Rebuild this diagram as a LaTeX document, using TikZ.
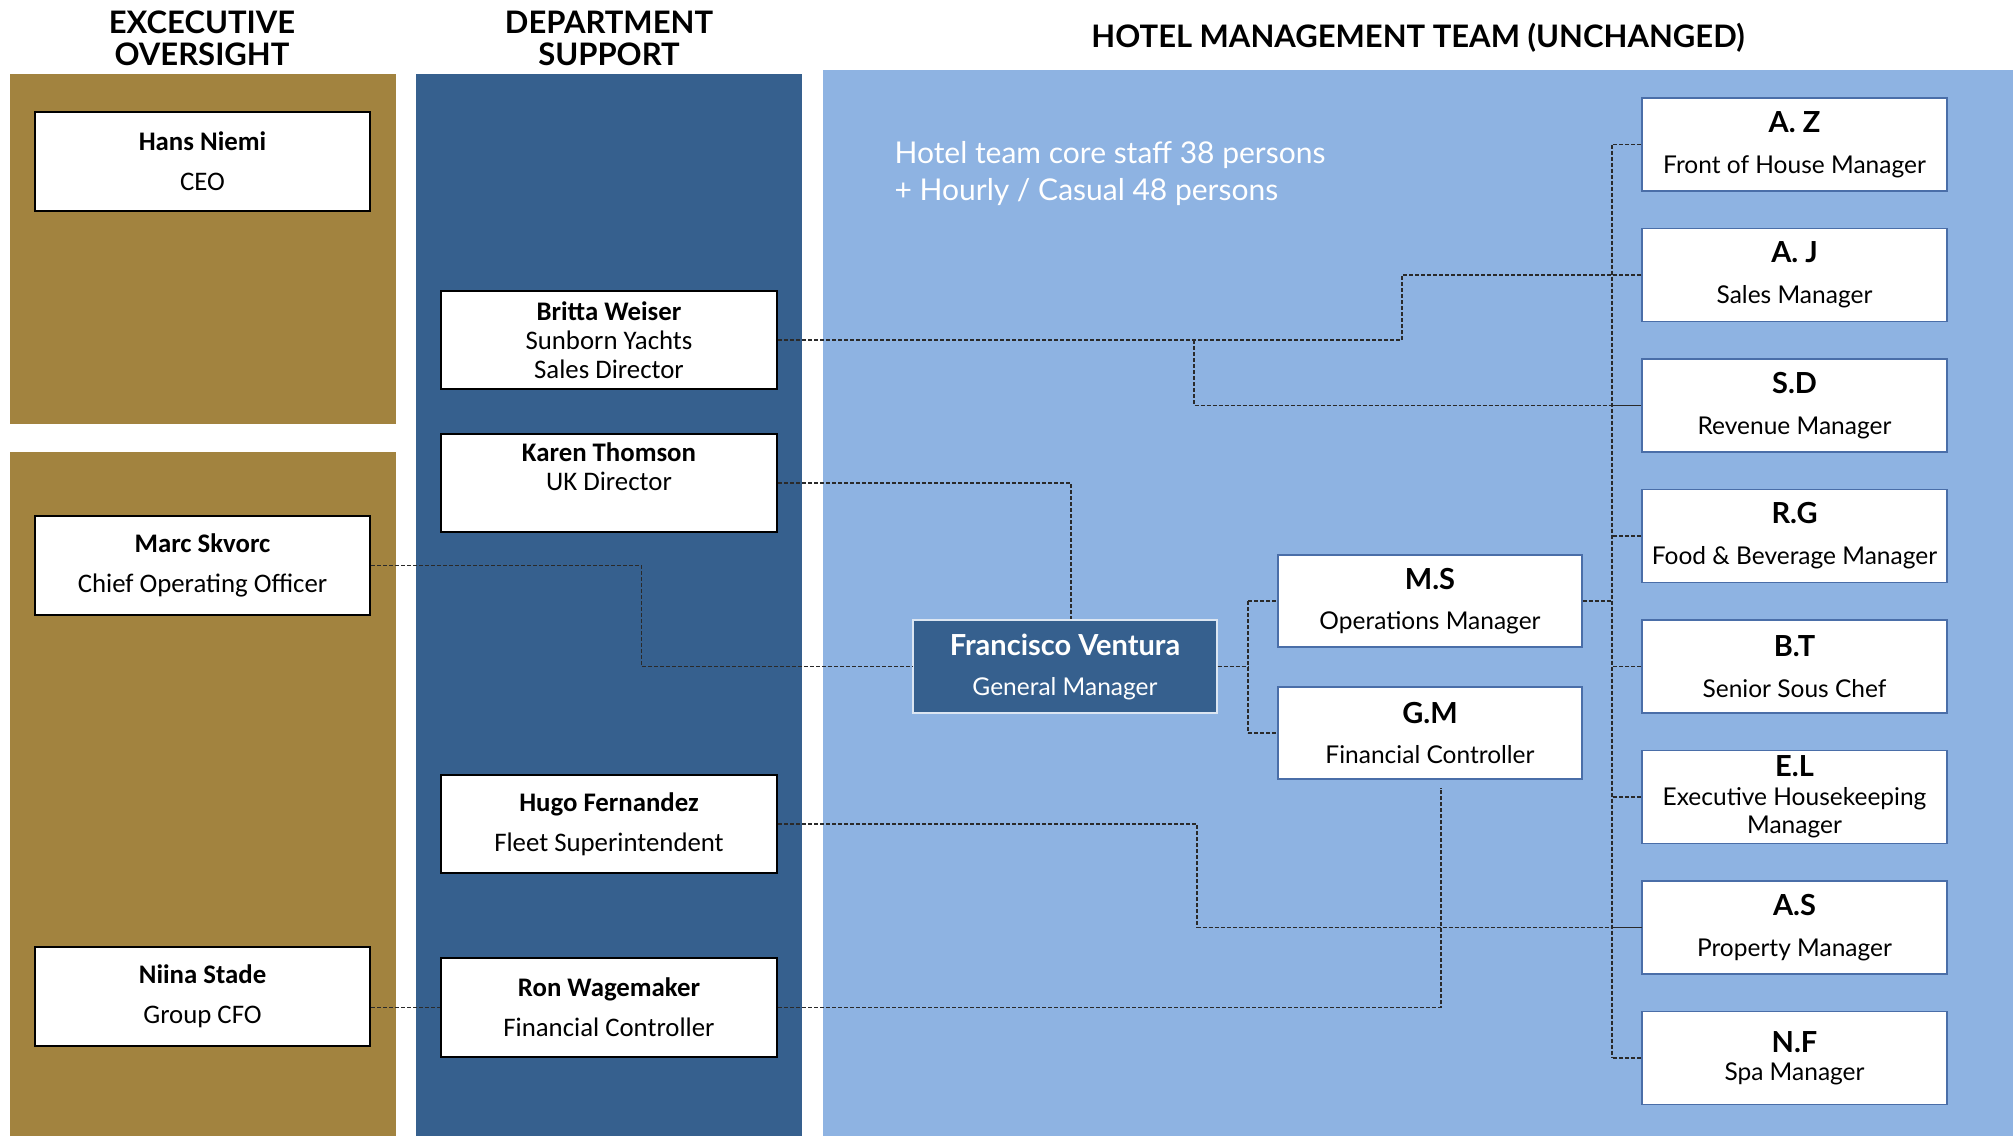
\documentclass[tikz,border=0pt]{standalone}
\usepackage{fontspec}
\setmainfont{Lato}
\newfontfamily\carlfont{Carlito}
\newcommand\hinit[1]{{\bfseries\fontsize{29}{29}\selectfont #1}}
\definecolor{gold}{HTML}{A2833F}
\definecolor{darkpanel}{HTML}{36608E}
\definecolor{lightpanel}{HTML}{8EB3E2}
\definecolor{rborder}{HTML}{4A6EA8}
\definecolor{fvborder}{HTML}{DCE6F2}
\definecolor{connc}{HTML}{2A2A2A}
\begin{document}
\begin{tikzpicture}[x=1pt,y=-1pt,
  lbox/.style={draw=black, line width=2.2pt, fill=white, minimum width=335pt, minimum height=99pt, inner sep=0pt, align=center, font=\carlfont\fontsize{26.8}{40}\selectfont},
  tight/.style={font=\carlfont\fontsize{26.8}{29}\selectfont},
  rbox/.style={draw=rborder, line width=1.8pt, fill=white, minimum width=305pt, minimum height=93pt, inner sep=0pt, align=center, font=\fontsize{24.5}{41}\selectfont},
  rtight/.style={font=\fontsize{24.5}{28.5}\selectfont},
  gmbox/.style={draw=fvborder, line width=1.2pt, fill=darkpanel, text=white, minimum width=304pt, minimum height=93pt, inner sep=0pt, align=center, font=\fontsize{24.5}{40}\selectfont},
  header/.style={align=center, font=\bfseries\fontsize{31}{32}\selectfont},
  conn/.style={draw=connc, line width=1.1pt, dash pattern=on 4pt off 2pt}
]
\useasboundingbox (0,0) rectangle (2013,1136);
% panels
\fill[gold] (10,74) rectangle (396,424);
\fill[gold] (10,452) rectangle (396,1136);
\fill[darkpanel] (416,74) rectangle (802,1136);
\fill[lightpanel] (823,70) rectangle (2013,1136);

% headers
\node[header] (h1) at (202,38) {EXCECUTIVE\\OVERSIGHT};
\node[header] (h2) at (609,38) {DEPARTMENT\\SUPPORT};
\node[header] (h3) at (1418,38) {HOTEL MANAGEMENT TEAM (UNCHANGED)};
\node[anchor=west, align=left, text=white, font=\fontsize{30}{37}\selectfont] (stats) at (891,173.5) {Hotel team core staff 38 persons\\+ Hourly / Casual 48 persons};

% executive
\node[lbox] (hans) at (202.5,161.5) {\textbf{Hans Niemi}\\CEO};
\node[lbox] (marc) at (202.5,565.5) {\textbf{Marc Skvorc}\\Chief Operating Officer};
\node[lbox] (niina) at (202.5,996.5) {\textbf{Niina Stade}\\Group CFO};

% department
\node[lbox, tight, minimum width=336pt, minimum height=98pt] (britta) at (609,340) {\textbf{Britta Weiser}\\Sunborn Yachts\\Sales Director};
\node[lbox, tight, minimum width=336pt, minimum height=98pt] (karen) at (609,483) {\textbf{Karen Thomson}\\UK Director\\[4pt]};
\node[lbox, minimum width=336pt, minimum height=98pt] (hugo) at (609,824) {\textbf{Hugo Fernandez}\\Fleet Superintendent};
\node[lbox, minimum width=336pt] (ron) at (609,1007.5) {\textbf{Ron Wagemaker}\\Financial Controller};

% hotel
\node[gmbox] (fv) at (1065,666.5) {\hinit{Francisco Ventura}\\General Manager};
\node[rbox, minimum width=304pt, minimum height=92pt, font=\fontsize{24.5}{39.5}\selectfont] (ms) at (1430,601) {\hinit{M.S}\\Operations Manager};
\node[rbox, minimum width=304pt, minimum height=92pt, font=\fontsize{24.5}{39.5}\selectfont] (gm) at (1430,733) {\hinit{G.M}\\Financial Controller};

\node[rbox] (az) at (1794.5,144.5) {\hinit{A. Z}\\Front of House Manager};
\node[rbox] (aj) at (1794.5,275) {\hinit{A. J}\\Sales Manager};
\node[rbox] (sd) at (1794.5,405.5) {\hinit{S.D}\\Revenue Manager};
\node[rbox] (rg) at (1794.5,536) {\hinit{R.G}\\Food \& Beverage Manager};
\node[rbox] (bt) at (1794.5,666.5) {\hinit{B.T}\\Senior Sous Chef};
\node[rbox, rtight] (el) at (1794.5,797) {\hinit{E.L}\\Executive Housekeeping\\Manager};
\node[rbox, rtight] (as) at (1794.5,927.5) {\hinit{A.S}\\[12pt]Property Manager};
\node[rbox, rtight] (nf) at (1794.5,1058) {\hinit{N.F}\\Spa Manager};

% helper x-positions
\coordinate (bus) at (1612,0);
\coordinate (bj) at (1402,0);
\coordinate (bs) at (1194,0);
\coordinate (mk) at (641.6,0);
\coordinate (fk) at (1248,0);
\coordinate (hk) at (1197,0);
\coordinate (rk) at (1441,0);
\coordinate (fvtop) at ([xshift=6pt]fv.north);

% connectors
\draw[conn] (britta.east) -- (britta.east -| bj) -- (bj |- aj.west) -- (aj.west);
\draw[conn] (britta.east -| bs) -- (bs |- sd.west) -- (sd.west);
\draw[conn] (karen.east) -- (karen.east -| fvtop) -- (fvtop);
\draw[conn] (marc.east) -- (marc.east -| mk) -- (mk |- fv.west) -- (fv.west);
\draw[conn] (fv.east) -- (fv.east -| fk);
\draw[conn] (fk |- ms.west) -- (fk |- gm.west);
\draw[conn] (fk |- ms.west) -- (ms.west);
\draw[conn] (fk |- gm.west) -- (gm.west);
\draw[conn] (ms.east) -- (ms.east -| bus);
\draw[conn] (az.west -| bus) -- (nf.west -| bus);
\foreach \n in {az,aj,sd,rg,bt,el,as,nf} \draw[conn] (\n.west) -- (\n.west -| bus);
\draw[conn] (hugo.east) -- (hugo.east -| hk) -- (hk |- as.west) -- (as.west);
\draw[conn] (niina.east |- ron.west) -- (ron.west);
\draw[conn] (ron.east) -- (ron.east -| rk) -- ([yshift=-8pt]rk |- gm.south);
\end{tikzpicture}
\end{document}
